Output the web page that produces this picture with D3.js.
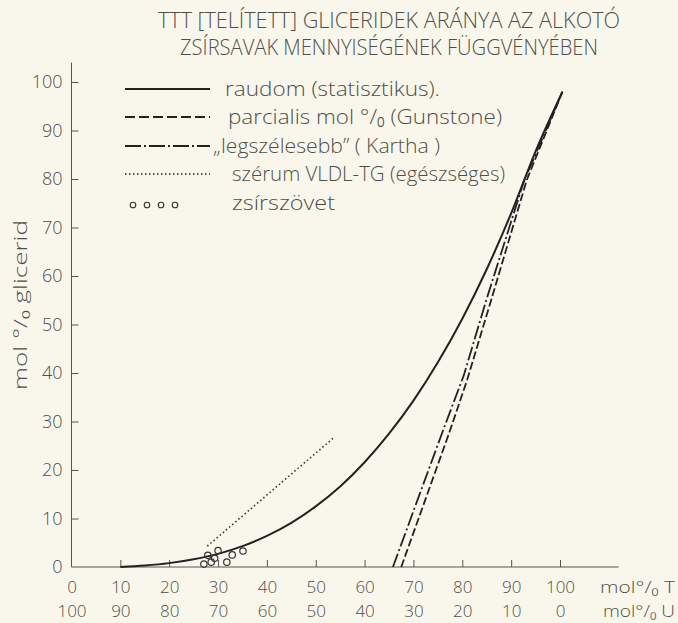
<!DOCTYPE html>
<html>
<head>
<meta charset="utf-8">
<script src="https://d3js.org/d3.v7.min.js"></script>
<title>TTT gliceridek</title>
<style>
body { margin: 0; background: #f9f7ec; }
svg { display: block; }
text { font-family: "Open Sans", "DejaVu Sans", sans-serif; font-weight: 300; fill: #4f4f48; }
.axis path { display: none; }
.axis line { stroke: #555; stroke-width: 1; }
</style>
</head>
<body>
<script>
// values
var titleLines = ["TTT [TELÍTETT] GLICERIDEK ARÁNYA AZ ALKOTÓ", "ZSÍRSAVAK MENNYISÉGÉNEK FÜGGVÉNYÉBEN"];
var xTicks = [0, 10, 20, 30, 40, 50, 60, 70, 80, 90, 100];
var uLabels = [100, 90, 80, 70, 60, 50, 40, 30, 20, 10, 0];
var yTicks = [0, 10, 20, 30, 40, 50, 60, 70, 80, 90, 100];

// raudom (statisztikus)
var randomT = [10, 15, 20, 25, 30, 35, 40, 45, 50, 55, 60, 65, 70, 75, 80, 85, 90, 95, 100.5];
var randomG = [0, 0.3, 0.8, 1.6, 2.7, 4.3, 6.4, 9.1, 12.5, 16.6, 21.6, 27.5, 34.3, 42.2, 51.2, 61.4, 72.9, 85.7, 98];
// parcialis mol % (Gunstone)
var gunstoneT = [67.5, 77.3, 81, 85.9, 93.2, 100.5];
var gunstoneG = [0, 27.6, 38.6, 55, 79.8, 98];
// legszelesebb (Kartha)
var karthaT = [65.8, 76, 80.3, 84.9, 92.6, 100.5];
var karthaG = [0, 28, 39.5, 55, 79.5, 98];
// szerum VLDL-TG
var serumT = [27.8, 53.5];
var serumG = [4.3, 26.5];
// zsirszovet
var tissueT = [27.1, 27.9, 28.6, 29.3, 30.0, 31.8, 32.9, 35.1];
var tissueG = [0.6, 2.4, 1.0, 1.8, 3.4, 1.0, 2.5, 3.3];

var legendLabels = ["raudom (statisztikus).", "parcialis mol °/₀ (Gunstone)", "„legszélesebb” ( Kartha )", "szérum VLDL-TG (egészséges)", "zsírszövet"];

var width = 678, height = 623;

var svg = d3.select("body").append("svg")
    .attr("width", width)
    .attr("height", height);

var x = d3.scaleLinear().domain([0, 100]).range([71.5, 560]);
var y = d3.scaleLinear().domain([0, 100]).range([567, 82]);

// title
svg.selectAll(".title")
    .data(titleLines)
  .enter().append("text")
    .attr("class", "title")
    .attr("x", 389)
    .attr("y", function(d, i) { return 28 + i * 27; })
    .attr("text-anchor", "middle")
    .attr("font-size", 22)
    .attr("textLength", function(d, i) { return i == 0 ? 462 : 418; })
    .attr("lengthAdjust", "spacingAndGlyphs")
    .text(function(d) { return d; });

// axes
svg.append("line")
    .attr("x1", x(0)).attr("x2", x(112))
    .attr("y1", y(0)).attr("y2", y(0))
    .attr("stroke", "#555");
svg.append("line")
    .attr("x1", x(0)).attr("x2", x(0))
    .attr("y1", y(0)).attr("y2", y(104))
    .attr("stroke", "#555");

var fs = 17;

var xAxis = svg.append("g")
    .attr("class", "axis")
    .attr("transform", "translate(0," + y(0) + ")")
    .call(d3.axisBottom(x).tickValues(xTicks.slice(1)).tickSize(-7).tickPadding(14));
xAxis.selectAll("text").attr("font-size", fs);

var xAxis0 = svg.append("g")
    .attr("class", "axis")
    .attr("transform", "translate(0," + y(0) + ")")
    .call(d3.axisBottom(x).tickValues([0]).tickSize(0).tickPadding(14));
xAxis0.selectAll("text").attr("font-size", fs);

var uAxis = svg.append("g")
    .attr("class", "axis")
    .attr("transform", "translate(0," + (y(0) + 24) + ")")
    .call(d3.axisBottom(x).tickValues(xTicks).tickSize(0).tickPadding(14)
      .tickFormat(function(d, i) { return uLabels[i]; }));
uAxis.selectAll("text").attr("font-size", fs);

var yAxis = svg.append("g")
    .attr("class", "axis")
    .attr("transform", "translate(" + x(0) + ",0)")
    .call(d3.axisLeft(y).tickValues(yTicks).tickSize(-7).tickPadding(9));
yAxis.selectAll("text").attr("font-size", 18);
yAxis.selectAll(".tick").filter(function(d) { return d == 0; }).select("line").remove();

svg.append("text")
    .attr("x", 600).attr("y", y(0) + 26)
    .attr("font-size", fs)
    .attr("textLength", 75).attr("lengthAdjust", "spacingAndGlyphs")
    .text("mol°/₀ T");
svg.append("text")
    .attr("x", 603).attr("y", y(0) + 50)
    .attr("font-size", fs)
    .attr("textLength", 72).attr("lengthAdjust", "spacingAndGlyphs")
    .text("mol°/₀ U");

svg.append("text")
    .attr("transform", "translate(27,305)rotate(-90)")
    .attr("text-anchor", "middle")
    .attr("font-size", 19)
    .attr("textLength", 170).attr("lengthAdjust", "spacingAndGlyphs")
    .text("mol °/₀ glicerid");

// curves
var line = d3.line()
    .x(function(d) { return x(d[0]); })
    .y(function(d) { return y(d[1]); });

function pairs(a, b) { return a.map(function(v, i) { return [v, b[i]]; }); }

svg.append("path")
    .attr("d", line.curve(d3.curveMonotoneX)(pairs(randomT, randomG)))
    .attr("fill", "none").attr("stroke", "#222").attr("stroke-width", 2);

line.curve(d3.curveLinear);

svg.append("path")
    .attr("d", line(pairs(gunstoneT, gunstoneG)))
    .attr("fill", "none").attr("stroke", "#222").attr("stroke-width", 1.8)
    .attr("stroke-dasharray", "8,3");

svg.append("path")
    .attr("d", line(pairs(karthaT, karthaG)))
    .attr("fill", "none").attr("stroke", "#222").attr("stroke-width", 1.8)
    .attr("stroke-dasharray", "14,3,2,3");

svg.append("path")
    .attr("d", line(pairs(serumT, serumG)))
    .attr("fill", "none").attr("stroke", "#333").attr("stroke-width", 1.6)
    .attr("stroke-dasharray", "1.5,2.6");

svg.selectAll(".pt")
    .data(pairs(tissueT, tissueG))
  .enter().append("circle")
    .attr("class", "pt")
    .attr("cx", function(d) { return x(d[0]); })
    .attr("cy", function(d) { return y(d[1]); })
    .attr("r", 3.2)
    .attr("fill", "none").attr("stroke", "#333").attr("stroke-width", 1.2);

// legend
var legendY = [89, 117, 146, 174, 203];
var legendX = [225, 228, 213, 232, 232];
var legendW = [215, 274, 227, 273, 103];
var dashes = [null, "10,4", "16,3,2,3", "1.5,2.5", null];

legendLabels.forEach(function(t, i) {
  if (i < 4) {
    svg.append("line")
      .attr("x1", 125).attr("x2", 210)
      .attr("y1", legendY[i]).attr("y2", legendY[i])
      .attr("stroke", "#222").attr("stroke-width", i == 3 ? 1.5 : 1.8)
      .attr("stroke-dasharray", dashes[i]);
  } else {
    [133, 147, 161, 175].forEach(function(cx) {
      svg.append("circle")
        .attr("cx", cx).attr("cy", legendY[i] + 2).attr("r", 2.8)
        .attr("fill", "none").attr("stroke", "#333").attr("stroke-width", 1.1);
    });
  }
  svg.append("text")
    .attr("x", legendX[i]).attr("y", legendY[i] + 7)
    .attr("font-size", 20)
    .attr("textLength", legendW[i]).attr("lengthAdjust", "spacingAndGlyphs")
    .text(t);
});
</script>
</body>
</html>
